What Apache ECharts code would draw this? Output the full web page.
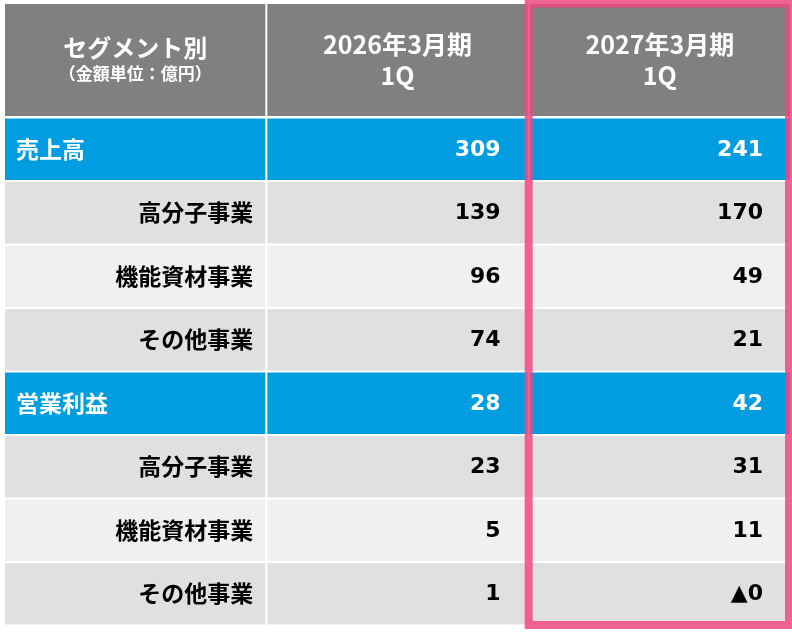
<!DOCTYPE html>
<html>
<head>
<meta charset="utf-8">
<script src="https://cdn.jsdelivr.net/npm/echarts@6/dist/echarts.min.js"></script>
<style>
  html, body { margin: 0; padding: 0; background: #fff; }
  #main { width: 792px; height: 633px; }
</style>
</head>
<body>
<div id="main"></div>
<script>
// columns and header texts
var columns = ['segment', 'fy2026', 'fy2027'];
var headerTop = ['セグメント別', '2026年3月期', '2027年3月期'];
var headerBottom = ['（金額単位：億円）', '1Q', '1Q'];

// rows
var rowLabels = ['売上高', '高分子事業', '機能資材事業', 'その他事業', '営業利益', '高分子事業', '機能資材事業', 'その他事業'];
var rowKinds = ['total', 'sub', 'sub', 'sub', 'total', 'sub', 'sub', 'sub'];

// values (億円), negative shown with ▲
var fy2026 = [309, 139, 96, 74, 28, 23, 5, 1];
var fy2027 = [241, 170, 49, 21, 42, 31, 11, -0.2];

var valueCols = [null, fy2026, fy2027];

var JP = '"Noto Sans CJK JP", "Noto Sans", sans-serif';
var NUM = '"DejaVu Sans", Verdana, sans-serif';

function fmt(v) {
    return v < 0 ? '▲' + Math.round(-v) : String(Math.round(v));
}

var headerData = columns.map(function (c, i) { return [i, 0]; });
var bodyData = [];
rowLabels.forEach(function (r, ri) {
    columns.forEach(function (c, ci) { bodyData.push([ci, ri]); });
});

function renderHeader(params, api) {
    var ci = api.value(0);
    var c = api.coord([ci, 0]);
    var s = api.size([1, 1]);
    var x0 = c[0] - s[0] / 2, y0 = c[1] - s[1] / 2;
    var children = [{
        type: 'rect',
        shape: { x: x0 + 1, y: y0, width: s[0] - 2, height: s[1] - 1 },
        style: { fill: '#808080' }
    }];
    if (ci === 0) {
        children.push({ type: 'text', style: { text: headerTop[ci], x: c[0], y: c[1] - 13,
            textAlign: 'center', textVerticalAlign: 'middle', fill: '#fff',
            font: 'bold 24px ' + JP } });
        children.push({ type: 'text', style: { text: headerBottom[ci], x: c[0], y: c[1] + 13,
            textAlign: 'center', textVerticalAlign: 'middle', fill: '#fff',
            font: 'bold 17px ' + JP } });
    } else {
        children.push({ type: 'text', style: { text: headerTop[ci], x: c[0], y: c[1] - 16,
            textAlign: 'center', textVerticalAlign: 'middle', fill: '#fff',
            font: 'bold 25px ' + JP } });
        children.push({ type: 'text', style: { text: headerBottom[ci], x: c[0], y: c[1] + 15,
            textAlign: 'center', textVerticalAlign: 'middle', fill: '#fff',
            font: 'bold 25px ' + JP } });
    }
    return { type: 'group', children: children };
}

function renderBody(params, api) {
    var ci = api.value(0), ri = api.value(1);
    var c = api.coord([ci, ri]);
    var s = api.size([1, 1]);
    var x0 = c[0] - s[0] / 2, y0 = c[1] - s[1] / 2;
    var total = rowKinds[ri] === 'total';
    var fill = total ? '#009de0' : ((ri % 4) % 2 === 1 ? '#e0e0e0' : '#f0f0f0');
    var color = total ? '#ffffff' : '#000000';
    var children = [{
        type: 'rect',
        shape: { x: x0 + 1, y: y0 + 1, width: s[0] - 2, height: s[1] - 2 },
        style: { fill: fill }
    }];
    if (ci === 0) {
        children.push({ type: 'text', style: {
            text: rowLabels[ri],
            x: total ? x0 + 12 : x0 + s[0] - 13, y: c[1],
            textAlign: total ? 'left' : 'right', textVerticalAlign: 'middle',
            fill: color, font: 'bold 23px ' + JP } });
    } else {
        children.push({ type: 'text', style: {
            text: fmt(valueCols[ci][ri]),
            x: x0 + s[0] - 28, y: c[1] + 1,
            textAlign: 'right', textVerticalAlign: 'middle',
            fill: color, font: 'bold 22px ' + NUM } });
    }
    return { type: 'group', children: children };
}

var myChart = echarts.init(document.getElementById('main'));

var option = {
    backgroundColor: '#ffffff',
    animation: false,
    grid: [
        { left: 4, top: 4, width: 787, height: 113 },
        { left: 4, top: 117.5, width: 787, height: 508 }
    ],
    xAxis: [
        { type: 'category', gridIndex: 0, data: columns, show: false },
        { type: 'category', gridIndex: 1, data: columns, show: false }
    ],
    yAxis: [
        { type: 'category', gridIndex: 0, data: ['header'], show: false },
        { type: 'category', gridIndex: 1, data: rowLabels.map(function (r, i) { return i; }), inverse: true, show: false }
    ],
    series: [
        { type: 'custom', xAxisIndex: 0, yAxisIndex: 0, data: headerData, renderItem: renderHeader, silent: true },
        { type: 'custom', xAxisIndex: 1, yAxisIndex: 1, data: bodyData, renderItem: renderBody, silent: true }
    ]
};

myChart.setOption(option);

// highlight box around the 2027 column, placed from the axes
var pTop = myChart.convertToPixel({ xAxisIndex: 0, yAxisIndex: 0 }, [2, 0]);
var pMid = myChart.convertToPixel({ xAxisIndex: 0, yAxisIndex: 0 }, [1, 0]);
var pBot = myChart.convertToPixel({ xAxisIndex: 1, yAxisIndex: 1 }, [2, rowLabels.length - 1]);
var colW = pTop[0] - pMid[0];
var headH = 113, rowH = 508 / rowLabels.length;
var boxTop = pTop[1] - headH / 2;
var boxBot = pBot[1] + rowH / 2;
myChart.setOption({
    graphic: [{
        type: 'rect',
        z: 100,
        shape: { x: pTop[0] - colW / 2, y: boxTop - 0.5, width: colW - 2, height: boxBot - boxTop },
        style: { fill: null, stroke: 'rgba(240,72,130,0.85)', lineWidth: 8 }
    }]
});

window.onresize = function () {
    myChart.resize();
};
</script>
</body>
</html>
